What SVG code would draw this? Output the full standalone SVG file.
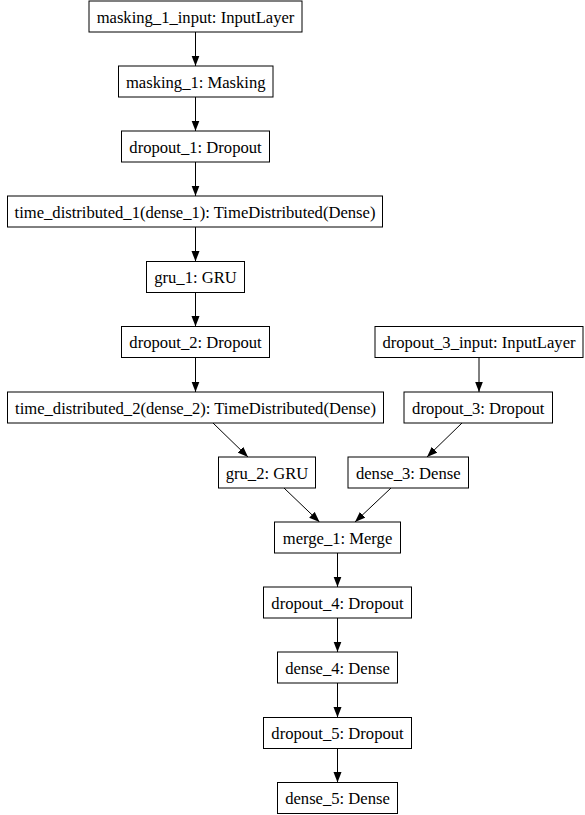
<svg xmlns="http://www.w3.org/2000/svg" width="585" height="815" viewBox="0 0 585 815">
<style>
.n rect{fill:#fff;stroke:#000;stroke-width:1}
.n text{font-family:'Liberation Serif','Times New Roman',serif;font-size:16.6px;fill:#000;text-anchor:middle}
.e line{stroke:#000;stroke-width:1;marker-end:url(#ah)}
</style>
<defs>
<marker id="ah" markerUnits="userSpaceOnUse" markerWidth="11" markerHeight="9" refX="10.5" refY="4.5" orient="auto">
<path d="M0,0.5 L10.5,4.5 L0,8.5 z" fill="#000"/>
</marker>
</defs>
<rect width="585" height="815" fill="#fff"/>
<g id="edges" class="e">
<line x1="195.5" y1="32" x2="195.5" y2="66"/>
<line x1="195.5" y1="97" x2="195.5" y2="131"/>
<line x1="195.5" y1="162" x2="195.5" y2="196"/>
<line x1="195.5" y1="227" x2="195.5" y2="261.5"/>
<line x1="195.5" y1="292.5" x2="195.5" y2="326.5"/>
<line x1="195.5" y1="357.5" x2="195.5" y2="392"/>
<line x1="479" y1="357.5" x2="479" y2="392"/>
<line x1="213" y1="423" x2="248" y2="457"/>
<line x1="462" y1="423" x2="427" y2="457"/>
<line x1="284" y1="488" x2="319.5" y2="522"/>
<line x1="391" y1="488" x2="355" y2="522"/>
<line x1="337.5" y1="553" x2="337.5" y2="587"/>
<line x1="337.5" y1="618" x2="337.5" y2="652"/>
<line x1="337.5" y1="683" x2="337.5" y2="717.5"/>
<line x1="337.5" y1="748.5" x2="337.5" y2="782.5"/>
</g>
<g id="masking_1_input" class="n"><rect x="89" y="1" width="213" height="31"/><text x="195.5" y="22.5">masking_1_input: InputLayer</text></g>
<g id="masking_1" class="n"><rect x="118.5" y="66" width="154.5" height="31"/><text x="195.75" y="87.5">masking_1: Masking</text></g>
<g id="dropout_1" class="n"><rect x="121.5" y="131" width="148" height="31"/><text x="195.5" y="152.5">dropout_1: Dropout</text></g>
<g id="time_distributed_1" class="n"><rect x="7.5" y="196" width="375" height="31"/><text x="195" y="217.5">time_distributed_1(dense_1): TimeDistributed(Dense)</text></g>
<g id="gru_1" class="n"><rect x="146.5" y="261.5" width="98" height="31"/><text x="195.5" y="283">gru_1: GRU</text></g>
<g id="dropout_2" class="n"><rect x="121.5" y="326.5" width="148" height="31"/><text x="195.5" y="348">dropout_2: Dropout</text></g>
<g id="dropout_3_input" class="n"><rect x="375" y="326.5" width="208" height="31"/><text x="479" y="348">dropout_3_input: InputLayer</text></g>
<g id="time_distributed_2" class="n"><rect x="7.5" y="392" width="376" height="31"/><text x="195.5" y="413.5">time_distributed_2(dense_2): TimeDistributed(Dense)</text></g>
<g id="dropout_3" class="n"><rect x="404" y="392" width="148.5" height="31"/><text x="478.25" y="413.5">dropout_3: Dropout</text></g>
<g id="gru_2" class="n"><rect x="218.5" y="457" width="97" height="31"/><text x="267" y="478.5">gru_2: GRU</text></g>
<g id="dense_3" class="n"><rect x="348" y="457" width="120.5" height="31"/><text x="408.25" y="478.5">dense_3: Dense</text></g>
<g id="merge_1" class="n"><rect x="274.5" y="522" width="126" height="31"/><text x="337.5" y="543.5">merge_1: Merge</text></g>
<g id="dropout_4" class="n"><rect x="263.5" y="587" width="148" height="31"/><text x="337.5" y="608.5">dropout_4: Dropout</text></g>
<g id="dense_4" class="n"><rect x="277.5" y="652" width="120" height="31"/><text x="337.5" y="673.5">dense_4: Dense</text></g>
<g id="dropout_5" class="n"><rect x="263.5" y="717.5" width="148" height="31"/><text x="337.5" y="739">dropout_5: Dropout</text></g>
<g id="dense_5" class="n"><rect x="277.5" y="782.5" width="120" height="31"/><text x="337.5" y="804">dense_5: Dense</text></g>
</svg>
